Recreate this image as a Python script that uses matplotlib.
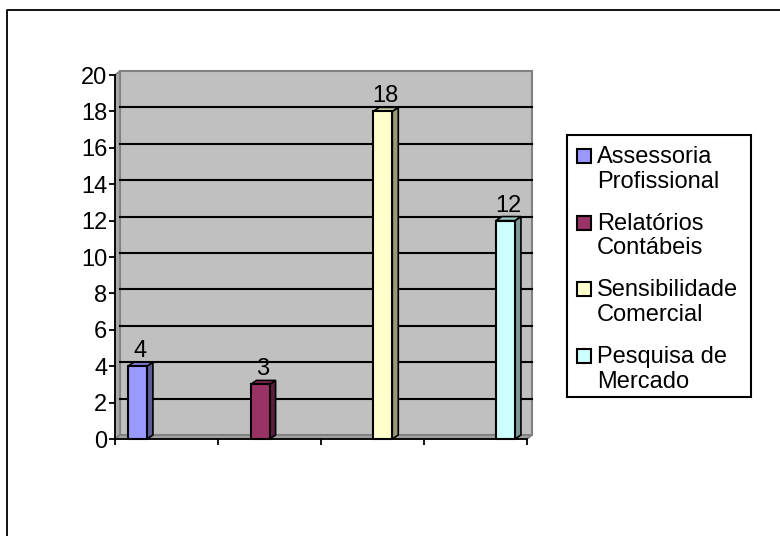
import matplotlib
matplotlib.use('Agg')
import matplotlib.pyplot as plt
from matplotlib.patches import Polygon, Rectangle
from matplotlib.lines import Line2D
from matplotlib.colors import to_rgb

plt.rcParams['font.family'] = ['Liberation Sans', 'DejaVu Sans']

categorias = ['Assessoria\nProfissional', 'Relatórios\nContábeis',
              'Sensibilidade\nComercial', 'Pesquisa de\nMercado']
valores = [4, 3, 18, 12]
cores = ['#9999FF', '#993366', '#FFFFCC', '#CCFFFF']
yticks = list(range(0, 21, 2))

W, H = 780, 536
fig = plt.figure(figsize=(W / 100, H / 100), dpi=100)
ax = fig.add_axes([115 / W, 1 - 439 / H, 412 / W, 364 / H])
ax.set_xlim(0, 4)
ax.set_ylim(0, 20)
ax.patch.set_visible(False)


def prof(dx, dy):
    # deslocamento em pixels -> deslocamento em dados (efeito 3D)
    p0 = ax.transData.transform((0, 0))
    return tuple(ax.transData.inverted().transform((p0[0] + dx, p0[1] + dy)))


def escurece(cor, f):
    r, g, b = to_rgb(cor)
    return (r * f, g * f, b * f)


# paredes e piso
wx, wy = prof(5, 4)
ax.add_patch(Rectangle((wx, wy), 4, 20, fc='#C0C0C0', ec='#808080', lw=1.5,
                       zorder=0, clip_on=False))
ax.add_patch(Polygon([(0, 0), (0, 20), (wx, 20 + wy), (wx, wy)], closed=True,
                     fc='#A8A8A8', ec='#808080', lw=1.2, zorder=0.5, clip_on=False))
ax.add_patch(Polygon([(0, 0), (4, 0), (4 + wx, wy), (wx, wy)], closed=True,
                     fc='#A0A0A0', ec='#808080', lw=1.2, zorder=0.5, clip_on=False))
for y in yticks[1:-1]:
    ax.plot([wx, 4 + wx], [y + wy, y + wy], color='black', lw=1.5, zorder=1,
            clip_on=False)

# colunas 3D
bx, by = prof(6, 4)
larg = 0.185
for i, (v, cor) in enumerate(zip(valores, cores)):
    x0 = i + 0.125 + 0.191 * i
    ax.add_patch(Polygon([(x0 + larg, 0), (x0 + larg + bx, by),
                          (x0 + larg + bx, v + by), (x0 + larg, v)], closed=True,
                         fc=escurece(cor, 0.6), ec='black', lw=1.2, zorder=2,
                         clip_on=False))
    ax.add_patch(Polygon([(x0, v), (x0 + larg, v), (x0 + larg + bx, v + by),
                          (x0 + bx, v + by)], closed=True,
                         fc=escurece(cor, 0.8), ec='black', lw=1.2, zorder=2,
                         clip_on=False))
    ax.add_patch(Rectangle((x0, 0), larg, v, fc=cor, ec='black', lw=1.5,
                           zorder=3, clip_on=False))
    ax.annotate(str(v), (x0 + larg / 2 + bx / 2, v + by), xytext=(0, 5),
                textcoords='offset pixels', ha='center', va='baseline',
                fontsize=17, zorder=4)

ax.set_yticks(yticks)
ax.set_xticks(range(5))
ax.set_xticklabels([])
ax.tick_params(direction='out', length=4.5, width=1.3, labelsize=17, pad=1,
               color='black')
for s in ['top', 'right']:
    ax.spines[s].set_visible(False)
for s in ['left', 'bottom']:
    ax.spines[s].set_linewidth(1.3)
    ax.spines[s].set_zorder(5)

# legenda
fx = lambda x: x / W
fy = lambda y: 1 - y / H
fig.add_artist(Rectangle((fx(567), fy(397)), fx(751) - fx(567), fy(135) - fy(397),
                         transform=fig.transFigure, fc='white', ec='black', lw=1.5))
for i, (nome, cor) in enumerate(zip(categorias, cores)):
    base = 163 + 66.5 * i
    fig.add_artist(Rectangle((fx(577), fy(base)), fx(14), 14 / H,
                             transform=fig.transFigure, fc=cor, ec='black', lw=1.5))
    for j, linha in enumerate(nome.split('\n')):
        fig.text(fx(597), fy(base + 25 * j), linha, fontsize=17, va='baseline',
                 ha='left')

# moldura da área do gráfico
fig.add_artist(Line2D([fx(7), fx(7), 1.02], [-0.02, fy(10), fy(10)],
                      transform=fig.transFigure, color='black', lw=1.3))

fig.savefig('out.png', dpi=100)
